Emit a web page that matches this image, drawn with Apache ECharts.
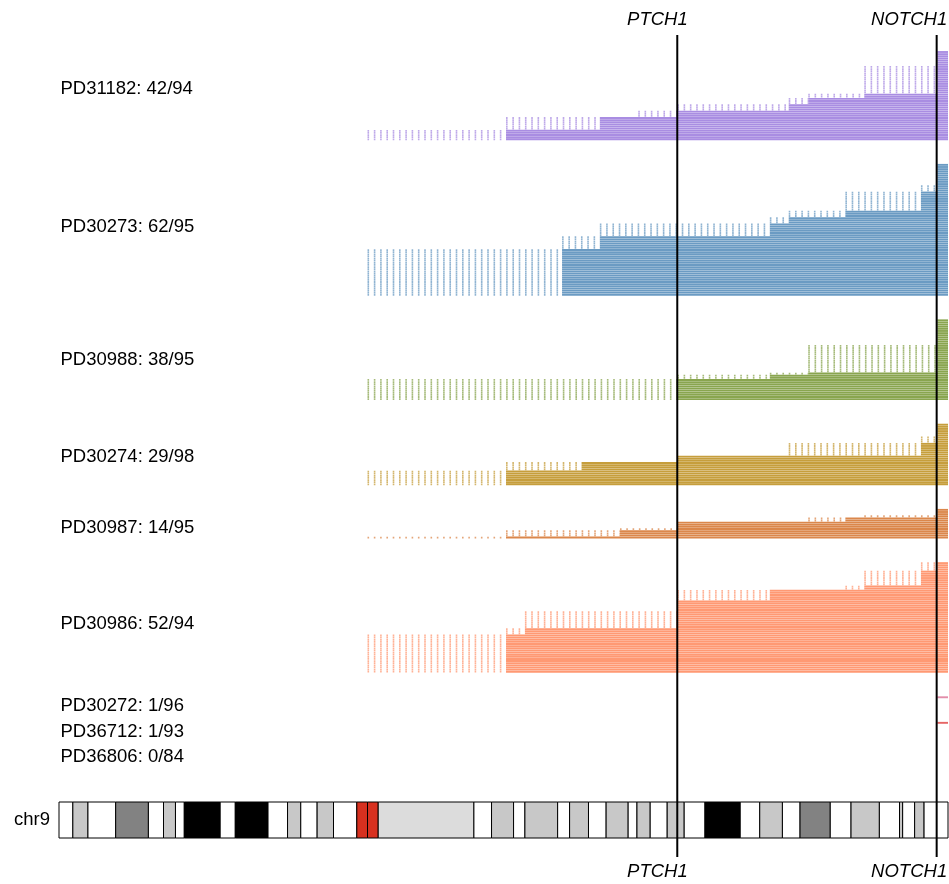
<!DOCTYPE html>
<html>
<head>
<meta charset="utf-8">
<title>chr9 cell segments</title>
<script src="https://cdn.jsdelivr.net/npm/echarts@6/dist/echarts.min.js"></script>
<style>
  html, body { margin: 0; padding: 0; background: #fff; }
  #chart { width: 949px; height: 884px; }
</style>
</head>
<body>
<div id="chart"></div>
<script>
// chr9 (hg19), Mb
var chrLength = 141.2;
var geneNames = ['PTCH1', 'NOTCH1'];
var genePos = [98.2, 139.4];

// samples from top to bottom
var samples = ['PD31182', 'PD30273', 'PD30988', 'PD30274', 'PD30987', 'PD30986', 'PD30272', 'PD36712', 'PD36806'];
var totals = [94, 95, 95, 98, 95, 94, 96, 93, 84];
var colors = ['#9370db', '#4682b4', '#6b8e23', '#b8860b', '#d2691e', '#ff7f50', '#db7093', '#e0403f', '#888888'];

// groups of cells: [cells, dotted from, solid from] (Mb), bottom row first
var pd31182 = [[5, 49.0, 71.0], [6, 71.0, 85.9], [3, 92.0, 98.2], [3, 98.2, 115.9], [3, 115.9, 119.0], [2, 119.0, 127.9], [13, 127.9, 139.5], [7, 139.5, 139.5]];
var pd30273 = [[22, 49.0, 79.9], [6, 79.9, 85.9], [6, 85.9, 112.9], [3, 112.9, 115.9], [3, 115.9, 124.9], [9, 124.9, 136.9], [3, 136.9, 139.5], [10, 139.5, 139.5]];
var pd30988 = [[10, 49.0, 98.2], [2, 98.2, 112.9], [1, 112.9, 119.0], [13, 119.0, 139.5], [12, 139.5, 139.5]];
var pd30274 = [[7, 49.0, 71.0], [4, 71.0, 83.0], [3, 98.2, 98.2], [6, 115.9, 136.9], [3, 136.9, 139.5], [6, 139.5, 139.5]];
var pd30987 = [[1, 49.0, 71.0], [3, 71.0, 89.1], [1, 89.1, 98.2], [3, 98.2, 98.2], [2, 119.0, 124.9], [1, 127.9, 139.5], [3, 139.5, 139.5]];
var pd30986 = [[18, 49.0, 71.0], [3, 71.0, 74.0], [8, 74.0, 98.2], [5, 98.2, 98.2], [5, 98.2, 112.9], [2, 124.9, 127.9], [7, 127.9, 136.9], [4, 136.9, 139.5]];
var pd30272 = [[1, 139.5, 139.5]];
var pd36712 = [[1, 139.5, 139.5]];
var pd36806 = [];
var groups = [pd31182, pd30273, pd30988, pd30274, pd30987, pd30986, pd30272, pd36712, pd36806];

// cytobands
var bandStart = [0, 2.2, 4.6, 9.0, 14.2, 16.6, 18.5, 19.9, 25.6, 28.0, 33.2, 36.3, 38.4, 41.0, 43.6, 47.3, 49.0, 50.7,
  65.9, 68.7, 72.2, 74.0, 79.2, 81.1, 84.1, 86.9, 90.4, 91.8, 93.9, 96.6, 99.3, 102.6, 108.2, 111.3, 114.9, 117.7,
  122.5, 125.8, 130.3, 133.5, 134.0, 135.9, 137.4];
var bandStain = ['gneg', 'gpos25', 'gneg', 'gpos75', 'gneg', 'gpos25', 'gneg', 'gpos100', 'gneg', 'gpos100', 'gneg',
  'gpos25', 'gneg', 'gpos25', 'gneg', 'acen', 'acen', 'gvar', 'gneg', 'gpos25', 'gneg', 'gpos50', 'gneg', 'gpos50',
  'gneg', 'gpos50', 'gneg', 'gpos25', 'gneg', 'gpos25', 'gneg', 'gpos100', 'gneg', 'gpos25', 'gneg', 'gpos75', 'gneg',
  'gpos25', 'gneg', 'gpos25', 'gneg', 'gpos25', 'gneg'];
var stainColor = {gneg: '#ffffff', gpos25: '#c8c8c8', gpos50: '#c8c8c8', gpos75: '#828282', gpos100: '#000000', acen: '#d7301f', gvar: '#dcdcdc'};

var FONT = '"Liberation Sans", Arial, sans-serif';
var GAP = 11; // empty rows between samples

// one row per cell
var cells = [];
var labels = [];
var labelText = [];
var start = 0;
groups.forEach(function (g, i) {
  var n = 0;
  g.forEach(function (d) { n += d[0]; });
  var row = start + n - 1;
  g.forEach(function (d) {
    for (var k = 0; k < d[0]; k++) {
      cells.push([d[1], d[2], chrLength, row, i]);
      row--;
    }
  });
  labels.push([0, start + (n - 1) / 2]);
  labelText.push(samples[i] + ': ' + n + '/' + totals[i]);
  start += n + GAP;
});

var bands = bandStart.map(function (s, i) {
  return [s, i + 1 < bandStart.length ? bandStart[i + 1] : chrLength, 0];
});

function renderCell(params, api) {
  var row = api.value(3);
  var a = api.coord([api.value(0), row]);
  var b = api.coord([api.value(1), row]);
  var c = api.coord([api.value(2), row]);
  var color = colors[api.value(4)];
  var kids = [];
  if (b[0] - a[0] > 0.5) {
    kids.push({type: 'line', shape: {x1: a[0], y1: a[1], x2: b[0], y2: b[1]},
      style: {stroke: color, lineWidth: 1.8, lineDash: [1.6, 4.7], opacity: 0.6}});
  }
  kids.push({type: 'line', shape: {x1: b[0], y1: b[1], x2: c[0], y2: c[1]},
    style: {stroke: color, lineWidth: 1.9, opacity: 0.8}});
  return {type: 'group', children: kids};
}

function renderLabel(params, api) {
  var p = api.coord([api.value(0), api.value(1)]);
  return {type: 'text', style: {text: labelText[params.dataIndex], x: p[0] + 1.5, y: p[1],
    align: 'left', verticalAlign: 'middle', font: '18.5px ' + FONT, fill: '#000'}};
}

function renderGene(params, api) {
  var cs = params.coordSys;
  var x = api.coord([api.value(0), 0])[0];
  var name = geneNames[params.dataIndex];
  var font = 'italic 18.5px ' + FONT;
  return {type: 'group', children: [
    {type: 'line', shape: {x1: x, y1: cs.y, x2: x, y2: cs.y + cs.height}, style: {stroke: '#000', lineWidth: 2}},
    {type: 'text', style: {text: name, x: x + 10.5, y: cs.y - 15, align: 'right', verticalAlign: 'middle', font: font, fill: '#000'}},
    {type: 'text', style: {text: name, x: x + 10.5, y: cs.y + cs.height + 15, align: 'right', verticalAlign: 'middle', font: font, fill: '#000'}}
  ]};
}

function renderBand(params, api) {
  var p1 = api.coord([api.value(0), api.value(2)]);
  var p2 = api.coord([api.value(1), api.value(2)]);
  var h = api.size([0, 1])[1];
  return {type: 'rect', shape: {x: p1[0], y: p1[1] - h / 2, width: p2[0] - p1[0], height: h},
    style: {fill: stainColor[bandStain[params.dataIndex]], stroke: '#000', lineWidth: 1}};
}

var chart = echarts.init(document.getElementById('chart'), null, {renderer: 'canvas'});
chart.setOption({
  animation: false,
  backgroundColor: '#fff',
  grid: [
    {left: 59, right: 1, top: 35, bottom: 27},
    {left: 59, right: 1, top: 802, height: 36}
  ],
  xAxis: [
    {type: 'value', gridIndex: 0, min: 0, max: chrLength, show: false},
    {type: 'value', gridIndex: 1, min: 0, max: chrLength, show: false}
  ],
  yAxis: [
    {type: 'value', gridIndex: 0, min: -7.98, max: 378, inverse: true, show: false},
    {type: 'value', gridIndex: 0, min: -4.24, max: 372.3, inverse: true, show: false},
    {type: 'category', gridIndex: 1, data: ['chr9'], axisLine: {show: false}, axisTick: {show: false},
      axisLabel: {margin: 9, fontSize: 18.5, fontFamily: FONT, color: '#000'}}
  ],
  series: [
    {type: 'custom', name: 'cells', xAxisIndex: 0, yAxisIndex: 0, data: cells, renderItem: renderCell,
      encode: {x: [0, 1, 2], y: 3}, z: 2, silent: true},
    {type: 'custom', name: 'labels', xAxisIndex: 0, yAxisIndex: 1, data: labels, renderItem: renderLabel,
      encode: {x: 0, y: 1}, z: 3, silent: true},
    {type: 'custom', name: 'chr9', xAxisIndex: 1, yAxisIndex: 2, data: bands, renderItem: renderBand,
      encode: {x: [0, 1], y: 2}, z: 2, silent: true},
    {type: 'custom', name: 'genes', xAxisIndex: 0, yAxisIndex: 0,
      data: genePos.map(function (g) { return [g, 0]; }), renderItem: renderGene,
      encode: {x: 0, y: 1}, z: 10, silent: true}
  ]
});
</script>
</body>
</html>
